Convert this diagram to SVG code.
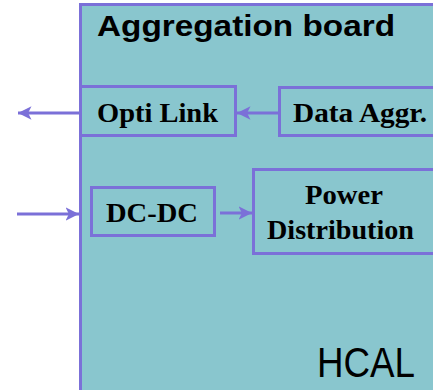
<svg xmlns="http://www.w3.org/2000/svg" width="433" height="390" viewBox="0 0 433 390">
  <style>
    .box { fill: #89c6ce; stroke: #7b70d8; stroke-width: 3; }
    .wire { stroke: #7b70d8; stroke-width: 3; fill: none; }
    .lbl { font-family: "Liberation Serif", "Times New Roman", serif; font-weight: bold; font-size: 28px; fill: #000; }
  </style>
  <defs>
    <marker id="head" viewBox="0 0 10 10" refX="10" refY="5" markerWidth="4.5" markerHeight="4.5" orient="auto" markerUnits="strokeWidth">
      <path d="M0,0 L10,5 L0,10 L2.5,5 Z" fill="#7b70d8"/>
    </marker>
  </defs>
  <rect width="433" height="390" fill="#ffffff"/>

  <g id="board">
    <rect class="box" x="80.5" y="4.5" width="360" height="400"/>
    <text x="97" y="36" font-family="Liberation Sans, Arial, sans-serif" font-weight="bold" font-size="29" textLength="298" lengthAdjust="spacingAndGlyphs">Aggregation board</text>
    <text x="317" y="377" font-family="Liberation Sans, Arial, sans-serif" font-size="42" textLength="98" lengthAdjust="spacingAndGlyphs">HCAL</text>
  </g>

  <g id="opti-link">
    <rect class="box" x="80.5" y="86.5" width="155" height="49"/>
    <text class="lbl" x="97" y="122" textLength="121" lengthAdjust="spacingAndGlyphs">Opti Link</text>
  </g>

  <g id="data-aggr">
    <rect class="box" x="279.5" y="87.5" width="170" height="48"/>
    <text class="lbl" x="293" y="122" textLength="134" lengthAdjust="spacingAndGlyphs">Data Aggr.</text>
  </g>

  <g id="dc-dc">
    <rect class="box" x="91.5" y="187.5" width="123" height="48"/>
    <text class="lbl" x="106" y="222" textLength="92" lengthAdjust="spacingAndGlyphs">DC-DC</text>
  </g>

  <g id="power-distribution">
    <rect class="box" x="253.5" y="169.5" width="190" height="84"/>
    <text class="lbl" x="305" y="204" textLength="78" lengthAdjust="spacingAndGlyphs">Power</text>
    <text class="lbl" x="267" y="239" textLength="147" lengthAdjust="spacingAndGlyphs">Distribution</text>
  </g>

  <g id="connectors">
    <line class="wire" x1="279" y1="113" x2="237" y2="113" marker-end="url(#head)"/>
    <line class="wire" x1="80" y1="113" x2="18" y2="113" marker-end="url(#head)"/>
    <line class="wire" x1="17" y1="214" x2="79" y2="214" marker-end="url(#head)"/>
    <line class="wire" x1="220" y1="213" x2="252" y2="213" marker-end="url(#head)"/>
  </g>
</svg>
